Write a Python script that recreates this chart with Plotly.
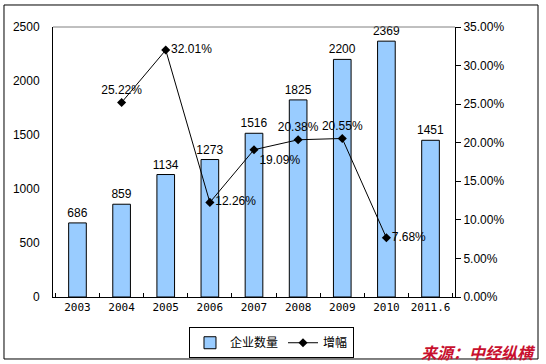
import plotly.graph_objects as go

categories = ["2003", "2004", "2005", "2006", "2007", "2008", "2009", "2010", "2011.6"]
company_count = [686, 859, 1134, 1273, 1516, 1825, 2200, 2369, 1451]
growth_rate = [None, 0.2522, 0.3201, 0.1226, 0.1909, 0.2038, 0.2055, 0.0768, None]
growth_labels = ["", "25.22%", "32.01%", "12.26%", "19.09%", "20.38%", "20.55%", "7.68%", ""]
label_positions = ["middle right", "top center", "middle right", "middle right", "bottom right",
                   "top center", "top center", "middle right", "middle right"]

num_font = dict(family="Liberation Sans, Arial, sans-serif", size=12, color="black")
cjk = "Noto Sans CJK SC, sans-serif"

fig = go.Figure()
fig.add_trace(go.Bar(
    x=categories, y=company_count, name="企业数量",
    marker=dict(color="#99CCFF", line=dict(color="black", width=1)),
    width=0.4,
    text=[str(v) for v in company_count], textposition="outside",
    textfont=num_font, cliponaxis=False, constraintext="none",
))
fig.add_trace(go.Scatter(
    x=categories, y=growth_rate, name="增幅", yaxis="y2",
    mode="lines+markers+text",
    line=dict(color="black", width=1),
    marker=dict(symbol="diamond", size=7, color="black"),
    text=growth_labels, textposition=label_positions, textfont=num_font,
    cliponaxis=False,
))

fig.update_layout(
    width=546, height=364,
    margin=dict(l=53, r=91, t=27, b=67, autoexpand=False),
    paper_bgcolor="white", plot_bgcolor="white",
    showlegend=True,
    legend=dict(orientation="h", x=0.3383, y=-0.112, xanchor="left", yanchor="top",
                bordercolor="black", borderwidth=1, bgcolor="white",
                font=dict(family=cjk, size=12, color="black"),
                itemwidth=30, tracegroupgap=0),
    xaxis=dict(type="category", showline=True, linecolor="black", linewidth=1,
               ticks="inside", tickson="boundaries", ticklen=4, tickcolor="black",
               tickangle=0, automargin=False,
               tickfont=dict(family="DejaVu Sans Mono, monospace", size=11, color="black"),
               showgrid=False, zeroline=False),
    yaxis=dict(range=[0, 2500], dtick=500, showline=True, linecolor="black", linewidth=1,
               ticks="", showgrid=False, zeroline=False, tickfont=num_font,
               ticklabelstandoff=10, automargin=False),
    yaxis2=dict(range=[0, 0.35], dtick=0.05, tickformat=".2%", overlaying="y", side="right",
                showline=True, linecolor="black", linewidth=1, ticks="outside", ticklen=5,
                tickcolor="black", showgrid=False, zeroline=False, tickfont=num_font,
                automargin=False),
    shapes=[
        dict(type="line", xref="paper", yref="paper", x0=0, x1=1, y0=1, y1=1,
             line=dict(color="#808080", width=1)),
        dict(type="rect", xref="paper", yref="paper", x0=-0.1219, x1=1.2065, y0=-0.2296, y1=1.0815,
             line=dict(color="black", width=1)),
    ],
    annotations=[
        dict(text="<b><i>来源：中经纵横</i></b>", xref="paper", yref="paper",
             x=1.2065, y=-0.2037, xanchor="right", yanchor="middle", showarrow=False,
             font=dict(family=cjk, size=16, color="#C8102E")),
    ],
)

fig.write_html("out.html", config={"displayModeBar": False},
               post_script="document.body.style.margin='0';document.body.style.overflow='hidden';")
